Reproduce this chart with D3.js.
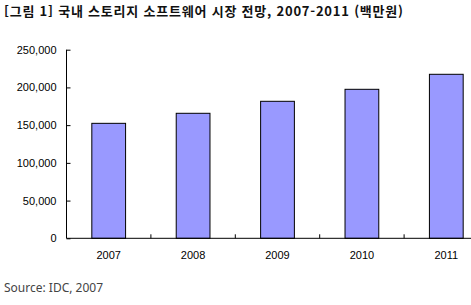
<!DOCTYPE html>
<html lang="ko">
<head>
<meta charset="utf-8">
<title>국내 스토리지 소프트웨어 시장 전망</title>
<script src="https://cdn.jsdelivr.net/npm/d3@7"></script>
<style>
  body { margin: 0; background: #fff; }
  svg { display: block; }
</style>
</head>
<body>
<div id="chart"></div>
<script>
// data (백만원)
const years = ["2007", "2008", "2009", "2010", "2011"];
const values = [152400, 165700, 181600, 197500, 217400];
const yTicks = [0, 50000, 100000, 150000, 200000, 250000];

const W = 471, H = 305;
const svg = d3.select("#chart").append("svg")
    .attr("width", W)
    .attr("height", H);

// plot area - the x axis runs past the right edge like in the original
const plotL = 66.5, plotR = 488.5, plotT = 49.7, plotB = 238.3;

const x = d3.scaleBand()
    .domain(years)
    .range([plotL, plotR])
    .paddingInner(0.6)
    .paddingOuter(0.3);

const y = d3.scaleLinear()
    .domain([0, 250000])
    .range([plotB, plotT]);

// title
svg.append("text")
    .attr("x", 4)
    .attr("y", 16)
    .attr("textLength", 399)
    .attr("lengthAdjust", "spacing")
    .style("font-family", "'Noto Sans CJK KR', sans-serif")
    .style("font-weight", "bold")
    .style("font-size", "13px")
    .style("fill", "#111")
    .text("[그림 1] 국내 스토리지 소프트웨어 시장 전망, 2007-2011 (백만원)");

// bars
svg.append("g")
  .selectAll("rect")
  .data(years)
  .join("rect")
    .attr("x", d => x(d))
    .attr("y", (d, i) => y(values[i]))
    .attr("width", x.bandwidth())
    .attr("height", (d, i) => y(0) - y(values[i]))
    .attr("fill", "#9999ff")
    .attr("stroke", "#000")
    .attr("stroke-width", 1);

// y axis, ticks pointing inward
const yAxis = svg.append("g")
    .attr("transform", `translate(${plotL},0)`)
    .call(d3.axisRight(y).tickValues(yTicks).tickSize(4).tickFormat(d3.format(",")));
yAxis.select(".domain").attr("d", `M0,${plotT}V${plotB}`);
yAxis.selectAll("text")
    .attr("x", -10)
    .style("text-anchor", "end")
    .style("font-family", "'Liberation Sans', Arial, sans-serif")
    .style("font-size", "11px")
    .style("fill", "#000");

// x axis, boundary ticks pointing up
const xg = svg.append("g").attr("transform", `translate(0,${plotB})`);
xg.append("line")
    .attr("x1", plotL).attr("x2", plotR)
    .attr("stroke", "#000");
xg.selectAll(".tick")
  .data(years.slice(1))
  .join("line")
    .attr("class", "tick")
    .attr("x1", d => x(d) - x.step() * x.paddingInner() / 2)
    .attr("x2", d => x(d) - x.step() * x.paddingInner() / 2)
    .attr("y1", 0).attr("y2", -4)
    .attr("stroke", "#000");
xg.selectAll(".lbl")
  .data(years)
  .join("text")
    .attr("class", "lbl")
    .attr("x", d => x(d) + x.bandwidth() / 2)
    .attr("y", 21)
    .style("text-anchor", "middle")
    .style("font-family", "'Liberation Sans', Arial, sans-serif")
    .style("font-size", "11px")
    .text(d => d);

// source note
svg.append("text")
    .attr("x", 4)
    .attr("y", 292)
    .style("font-family", "'Noto Sans', sans-serif")
    .style("font-size", "12px")
    .style("fill", "#444")
    .text("Source: IDC, 2007");
</script>
</body>
</html>
